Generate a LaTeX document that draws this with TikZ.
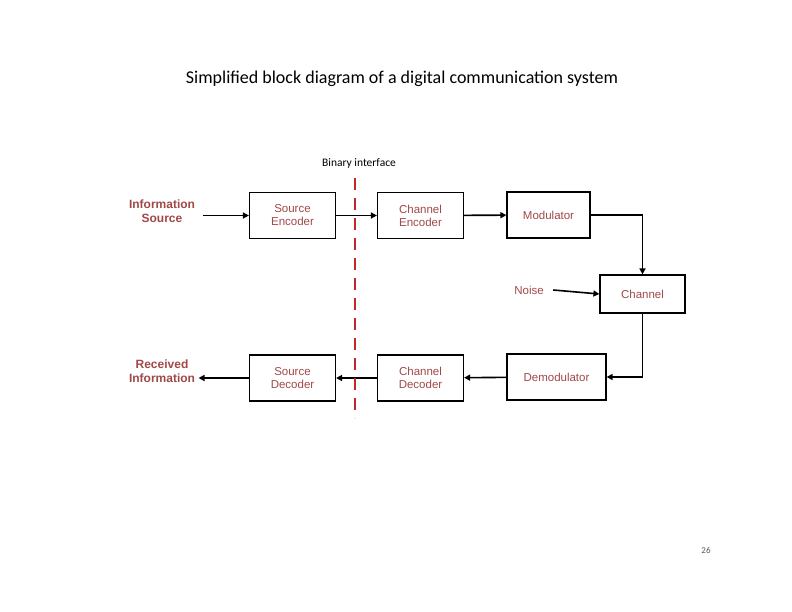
\documentclass[tikz,border=0pt]{standalone}
\usepackage{fontspec}
\setmainfont{Liberation Sans}
\newfontfamily\carlitofont{Carlito}
\usetikzlibrary{arrows.meta}
\definecolor{txt}{HTML}{A04848}
\definecolor{dashred}{HTML}{C02828}
\begin{document}
\begin{tikzpicture}[x=1pt,y=-1pt,
  blk/.style={draw,line width=1.2pt,minimum width=#1,minimum height=46pt,inner sep=0pt,text=txt,font=\fontsize{11.5}{13}\selectfont,align=center},
  blk/.default=86pt,
  lbl/.style={text=txt,font=\bfseries\fontsize{12}{14}\selectfont,align=center},
  arr/.style={-{Triangle[length=6pt,width=6pt]},line width=1.6pt}]
\useasboundingbox (0,0) rectangle (792,612);
\node[font=\carlitofont\fontsize{18}{20}\selectfont] (title) at (402,79) {Simplified block diagram of a digital communication system};
\node[font=\carlitofont\fontsize{11.5}{13}\selectfont] (bi) at (359,163) {Binary interface};
\node[lbl] (is) at (162,211) {Information\\Source};
\node[lbl] (ri) at (162,371) {Received\\Information};
\node[blk] (se) at (292.5,215.5) {Source\\Encoder};
\node[blk] (ce) at (420.5,215.5) {Channel\\Encoder};
\node[blk=83pt] (mo) at (548.5,215) {Modulator};
\node[blk=85pt,minimum height=38pt] (ch) at (642.5,294) {Channel};
\node[text=txt,font=\fontsize{11.5}{13}\selectfont] (no) at (529,290) {Noise};
\node[blk=99pt] (de) at (556.5,377) {Demodulator};
\node[blk] (cd) at (420.5,378) {Channel\\Decoder};
\node[blk] (sd) at (292.5,378) {Source\\Decoder};
\draw[arr] (is.east|-se) ++(4,0) -- (se.west);
\draw[arr] (se) -- (ce);
\draw[arr] (ce) -- (mo);
\draw[arr] (mo.east) -| (ch.north);
\draw[arr] (no.east) ++(6,0) -- (ch.west);
\draw[arr] (ch.south) |- (de.east);
\draw[arr] (de) -- (cd);
\draw[arr] (cd) -- (sd);
\draw[arr] (sd.west) -- (ri.east|-sd);
\coordinate (dt) at (355,178); \coordinate (db) at (355,418);
\draw[dashred,line width=2.5pt,dash pattern=on 12pt off 8pt] (dt) -- (db);
\node[font=\carlitofont\fontsize{9}{10}\selectfont,text=gray!70!black] (pg) at (706,550) {26};
\end{tikzpicture}
\end{document}
